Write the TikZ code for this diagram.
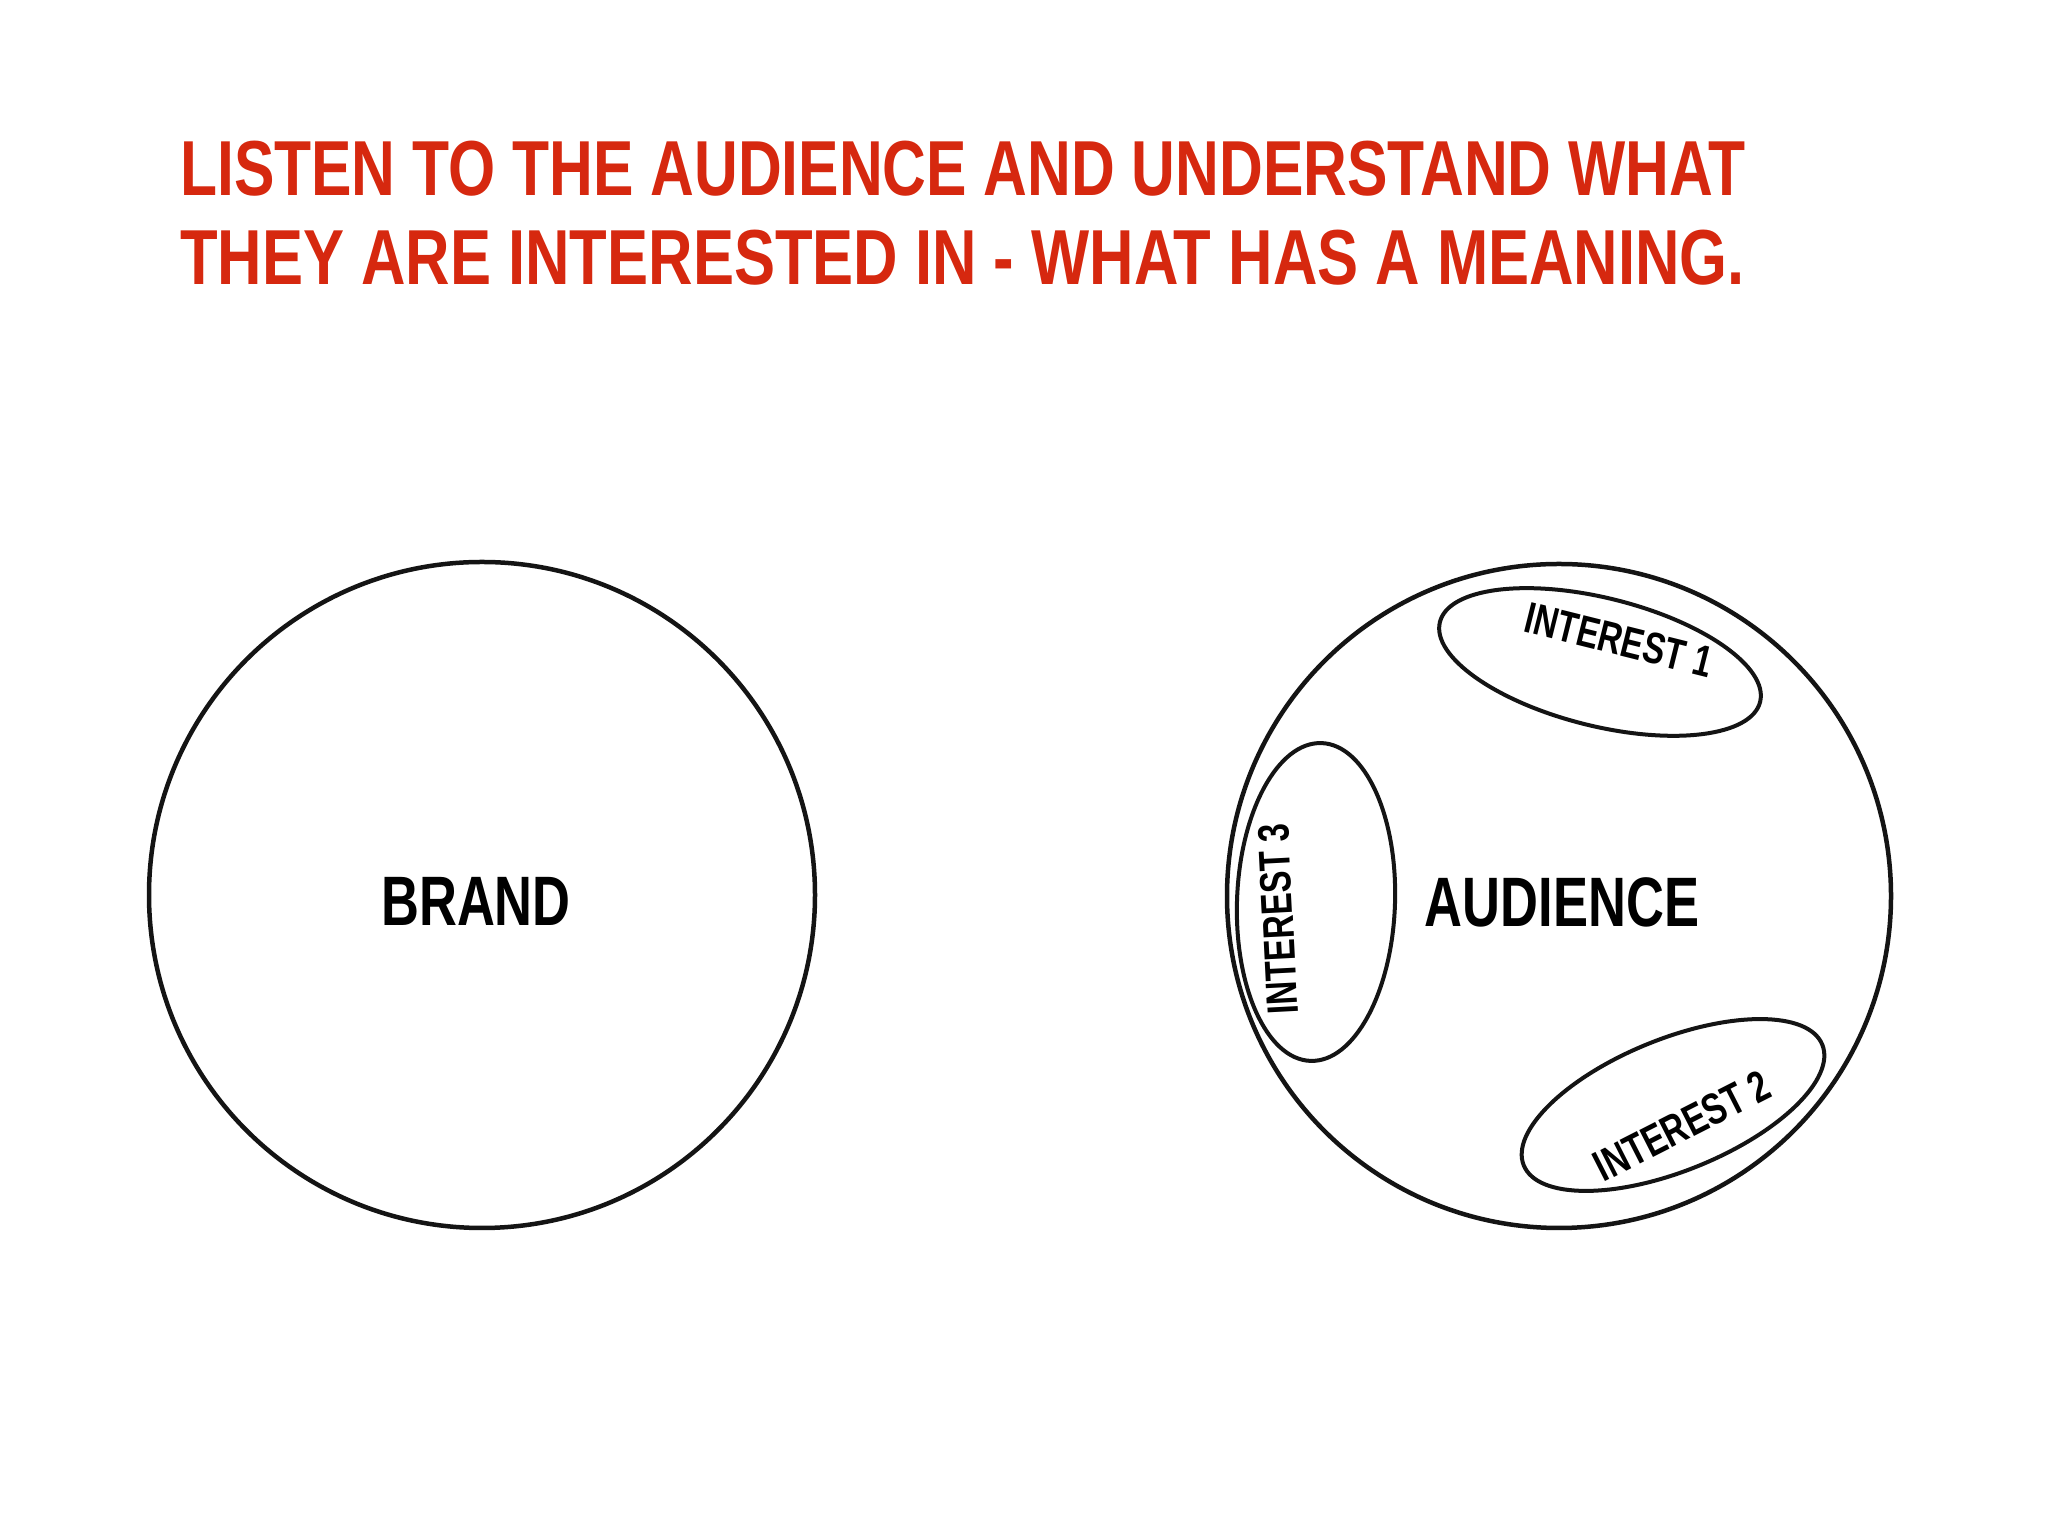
\documentclass[tikz,border=0pt]{standalone}
\usepackage{fontspec}
\newfontfamily\condfont[FakeStretch=0.75]{Liberation Sans}
\newfontfamily\titlefonta[FakeStretch=0.777]{Liberation Sans}
\newfontfamily\titlefontb[FakeStretch=0.789]{Liberation Sans}
\definecolor{titlered}{HTML}{D6280F}
\definecolor{ink}{HTML}{141414}
\begin{document}
\begin{tikzpicture}[x=1pt,y=1pt,
  blob/.style={draw=ink, line width=4.5pt},
  oval/.style={draw=ink, line width=4pt},
  titletext/.style={anchor=base west, inner sep=0pt, text=titlered},
  titlesize/.style={font=#1\bfseries\fontsize{78}{90}\selectfont},
  bigtext/.style={inner sep=0pt, text=black, font=\condfont\bfseries\fontsize{70}{80}\selectfont},
  smalltext/.style={inner sep=0pt, text=black, font=\condfont\bfseries\fontsize{44}{48}\selectfont}]
\fill[white] (0,0) rectangle (2048,1533);
\useasboundingbox (0,0) rectangle (2048,1533);
% title
\node[titletext, titlesize=\titlefonta] (title1) at (180,1337) {LISTEN TO THE AUDIENCE AND UNDERSTAND WHAT};
\node[titletext, titlesize=\titlefontb] (title2) at (180,1248) {THEY ARE INTERESTED IN - WHAT HAS A MEANING.};
% brand
\draw[blob] (482,638) circle[radius=333];
\node[bigtext] (brand) at (476,632) {BRAND};
% audience
\draw[blob] (1559,637) circle[radius=332];
\node[bigtext] (audience) at (1562,631) {AUDIENCE};
% interests
\draw[oval] (1600,871) ellipse[x radius=165, y radius=64, rotate=-14];
\node[smalltext, rotate=-14] (int1) at (1619,893) {INTEREST 1};
\draw[oval] (1673,428) ellipse[x radius=161, y radius=66, rotate=22];
\node[smalltext, rotate=27] (int2) at (1682,407) {INTEREST 2};
\draw[oval] (1316,631) ellipse[x radius=79, y radius=159, rotate=-2];
\node[smalltext, rotate=93] (int3) at (1278,614) {INTEREST 3};
\end{tikzpicture}
\end{document}
